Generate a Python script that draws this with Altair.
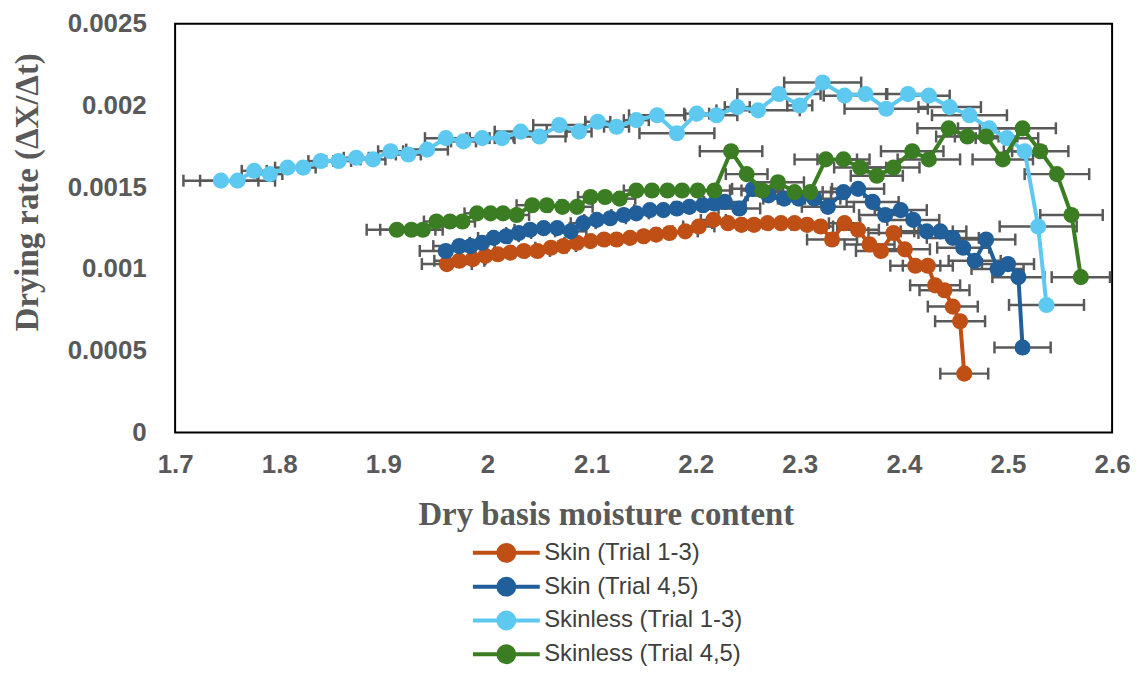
import altair as alt
import pandas as pd

series_names = ["Skin (Trial 1-3)", "Skin (Trial 4,5)", "Skinless (Trial 1-3)", "Skinless (Trial 4,5)"]
series_colors = ["#C04F15", "#215F9A", "#5DC9F1", "#3B7D23"]

x_ticks = [1.7, 1.8, 1.9, 2.0, 2.1, 2.2, 2.3, 2.4, 2.5, 2.6]
y_ticks = [0, 0.0005, 0.001, 0.0015, 0.002, 0.0025]

# Skin (Trial 1-3)
skin13_x = [1.961, 1.973, 1.986, 1.998, 2.010, 2.022, 2.035, 2.048, 2.061, 2.073, 2.086, 2.099,
            2.112, 2.124, 2.137, 2.150, 2.162, 2.175, 2.190, 2.203, 2.217, 2.231, 2.244, 2.256,
            2.269, 2.282, 2.295, 2.307, 2.320, 2.331, 2.343, 2.356, 2.367, 2.378, 2.390, 2.401,
            2.411, 2.423, 2.430, 2.439, 2.447, 2.454, 2.458]
skin13_y = [0.00103, 0.00105, 0.00106, 0.00108, 0.00109, 0.00110, 0.00111, 0.00111, 0.00113, 0.00114,
            0.00116, 0.00117, 0.00118, 0.00118, 0.00119, 0.00120, 0.00121, 0.00122, 0.00123, 0.00126,
            0.00130, 0.00128, 0.00127, 0.00127, 0.00128, 0.00128, 0.00128, 0.00127, 0.00126, 0.00118,
            0.00128, 0.00124, 0.00115, 0.00111, 0.00122, 0.00112, 0.00102, 0.00102, 0.00090, 0.00087,
            0.00077, 0.00068, 0.00036]
skin13_err = [0.024, 0.024, 0.012, 0.012, 0.012, 0.015, 0.012, 0.012, 0.015, 0.012, 0.012, 0.015,
              0.012, 0.012, 0.015, 0.012, 0.012, 0.015, 0.012, 0.015, 0.012, 0.015, 0.012, 0.015,
              0.012, 0.015, 0.012, 0.015, 0.012, 0.024, 0.015, 0.020, 0.024, 0.024, 0.024, 0.024,
              0.024, 0.024, 0.024, 0.024, 0.024, 0.024, 0.023]

# Skin (Trial 4,5)
skin45_x = [1.960, 1.973, 1.984, 1.995, 2.006, 2.018, 2.030, 2.041, 2.054, 2.067, 2.080, 2.092,
            2.105, 2.118, 2.131, 2.143, 2.156, 2.169, 2.182, 2.194, 2.207, 2.218, 2.228, 2.242,
            2.255, 2.270, 2.285, 2.299, 2.314, 2.327, 2.342, 2.356, 2.370, 2.382, 2.397, 2.409,
            2.422, 2.435, 2.447, 2.457, 2.468, 2.479, 2.490, 2.500, 2.510, 2.514]
skin45_y = [0.00111, 0.00114, 0.00114, 0.00116, 0.00119, 0.00120, 0.00122, 0.00124, 0.00125, 0.00125,
            0.00123, 0.00128, 0.00130, 0.00131, 0.00133, 0.00134, 0.00136, 0.00136, 0.00137, 0.00138,
            0.00139, 0.00140, 0.00141, 0.00137, 0.00149, 0.00145, 0.00143, 0.00143, 0.00143, 0.00138,
            0.00147, 0.00149, 0.00141, 0.00133, 0.00136, 0.00130, 0.00123, 0.00123, 0.00119, 0.00113,
            0.00105, 0.00118, 0.00100, 0.00103, 0.00095, 0.00052]
skin45_err = [0.025, 0.025, 0.012, 0.012, 0.015, 0.012, 0.012, 0.015, 0.012, 0.012, 0.015, 0.012,
              0.012, 0.015, 0.012, 0.012, 0.015, 0.012, 0.012, 0.015, 0.012, 0.015, 0.020, 0.020,
              0.020, 0.020, 0.020, 0.020, 0.025, 0.025, 0.020, 0.025, 0.025, 0.025, 0.025, 0.025,
              0.025, 0.025, 0.025, 0.025, 0.025, 0.028, 0.025, 0.025, 0.025, 0.027]

# Skinless (Trial 1-3)
skinless13_x = [1.744, 1.760, 1.776, 1.791, 1.808, 1.823, 1.840, 1.857, 1.874, 1.890, 1.907, 1.924,
                1.942, 1.960, 1.977, 1.995, 2.014, 2.032, 2.050, 2.069, 2.088, 2.106, 2.124, 2.143,
                2.163, 2.182, 2.201, 2.220, 2.240, 2.260, 2.280, 2.300, 2.322, 2.343, 2.363, 2.383,
                2.404, 2.424, 2.444, 2.463, 2.482, 2.499, 2.516, 2.529, 2.537]
skinless13_y = [0.00154, 0.00154, 0.00160, 0.00158, 0.00162, 0.00162, 0.00166, 0.00166, 0.00168, 0.00167,
                0.00172, 0.00170, 0.00173, 0.00180, 0.00178, 0.00180, 0.00180, 0.00184, 0.00181, 0.00188,
                0.00184, 0.00190, 0.00187, 0.00191, 0.00194, 0.00183, 0.00195, 0.00194, 0.00199, 0.00197,
                0.00207, 0.00200, 0.00214, 0.00206, 0.00207, 0.00198, 0.00207, 0.00206, 0.00199, 0.00194,
                0.00186, 0.00180, 0.00172, 0.00126, 0.00078]
skinless13_err = [0.036, 0.036, 0.012, 0.012, 0.012, 0.012, 0.012, 0.012, 0.012, 0.012, 0.012, 0.012,
                  0.020, 0.020, 0.012, 0.012, 0.012, 0.025, 0.025, 0.025, 0.012, 0.012, 0.012, 0.012,
                  0.027, 0.036, 0.012, 0.020, 0.012, 0.040, 0.040, 0.012, 0.037, 0.020, 0.020, 0.040,
                  0.020, 0.020, 0.030, 0.036, 0.030, 0.030, 0.020, 0.037, 0.036]

# Skinless (Trial 4,5)
skinless45_x = [1.913, 1.927, 1.938, 1.951, 1.964, 1.976, 1.990, 2.003, 2.015, 2.028, 2.043, 2.057,
                2.072, 2.086, 2.099, 2.113, 2.127, 2.143, 2.158, 2.173, 2.187, 2.202, 2.218, 2.234,
                2.249, 2.264, 2.279, 2.295, 2.310, 2.325, 2.342, 2.358, 2.374, 2.390, 2.408, 2.424,
                2.443, 2.461, 2.479, 2.495, 2.514, 2.531, 2.547, 2.561, 2.570]
skinless45_y = [0.00124, 0.00124, 0.00124, 0.00129, 0.00129, 0.00129, 0.00134, 0.00134, 0.00134, 0.00133,
                0.00139, 0.00139, 0.00138, 0.00138, 0.00144, 0.00144, 0.00143, 0.00148, 0.00148, 0.00148,
                0.00148, 0.00148, 0.00148, 0.00172, 0.00158, 0.00148, 0.00153, 0.00147, 0.00147, 0.00167,
                0.00167, 0.00162, 0.00157, 0.00162, 0.00172, 0.00167, 0.00186, 0.00181, 0.00181, 0.00167,
                0.00186, 0.00172, 0.00158, 0.00133, 0.00095]
skinless45_err = [0.029, 0.030, 0.012, 0.012, 0.015, 0.012, 0.012, 0.015, 0.012, 0.012, 0.015, 0.012,
                  0.012, 0.015, 0.012, 0.012, 0.015, 0.012, 0.012, 0.015, 0.012, 0.012, 0.015, 0.030,
                  0.020, 0.020, 0.025, 0.020, 0.020, 0.030, 0.025, 0.025, 0.025, 0.025, 0.030, 0.030,
                  0.030, 0.030, 0.030, 0.029, 0.032, 0.027, 0.031, 0.030, 0.028]

series_data = [
    (series_names[0], skin13_x, skin13_y, skin13_err),
    (series_names[1], skin45_x, skin45_y, skin45_err),
    (series_names[2], skinless13_x, skinless13_y, skinless13_err),
    (series_names[3], skinless45_x, skinless45_y, skinless45_err),
]

frames = []
for name, xs, ys, es in series_data:
    f = pd.DataFrame({"x": xs, "y": ys, "err": es})
    f["series"] = name
    f["idx"] = range(len(f))
    frames.append(f)
df = pd.concat(frames, ignore_index=True)
df["lo"] = df["x"] - df["err"]
df["hi"] = df["x"] + df["err"]

GRAY = "#595959"
x_scale = alt.Scale(domain=[1.7, 2.6], nice=False, zero=False)
y_scale = alt.Scale(domain=[0, 0.0025], nice=False, zero=True)

x_axis = alt.Axis(values=x_ticks, format=".1~f", title="Dry basis moisture content",
                  grid=False, ticks=False, domain=False, labelFlush=False,
                  labelFont="Liberation Sans", labelFontWeight="bold", labelFontSize=26,
                  labelColor=GRAY, labelPadding=19,
                  titleFont="Liberation Serif", titleFontWeight="bold", titleFontSize=33,
                  titleColor=GRAY, titleX=433, titleY=82, titleAlign="center",
                  titleBaseline="middle", titleAngle=0)
y_axis = alt.Axis(values=y_ticks, format="~g", title="Drying rate (ΔX/Δt)",
                  grid=False, ticks=False, domain=False, labelFlush=False,
                  labelFont="Liberation Sans", labelFontWeight="bold", labelFontSize=26,
                  labelColor=GRAY, labelPadding=29,
                  titleFont="Liberation Serif", titleFontWeight="bold", titleFontSize=33,
                  titleColor=GRAY, titleX=-148, titleY=169, titleAlign="center",
                  titleBaseline="middle", titleAngle=270)

legend_symbol = ("M-2.8,0L2.8,0 "
                 "M0.667,0A0.667,0.667,0,1,1,-0.667,0A0.667,0.667,0,1,1,0.667,0 "
                 "M0.417,0A0.417,0.417,0,1,1,-0.417,0A0.417,0.417,0,1,1,0.417,0 "
                 "M0.167,0A0.167,0.167,0,1,1,-0.167,0A0.167,0.167,0,1,1,0.167,0")
legend = alt.Legend(title=None, orient="none", legendX=319, legendY=518, direction="vertical",
                    symbolType=legend_symbol, symbolSize=576, symbolStrokeWidth=4,
                    labelFont="Liberation Sans", labelFontSize=24, labelColor="#404040",
                    labelOffset=24, labelLimit=400, rowPadding=0, padding=0)

color_enc = alt.Color("series:N", scale=alt.Scale(domain=series_names, range=series_colors), legend=legend)

base = alt.Chart(df)
X = alt.X("x:Q", scale=x_scale, axis=x_axis)
Y = alt.Y("y:Q", scale=y_scale, axis=y_axis)

err_line = base.mark_rule(color=GRAY, strokeWidth=2.5).encode(
    x=alt.X("lo:Q", scale=x_scale, axis=x_axis), x2="hi:Q", y=Y)
err_cap_lo = base.mark_tick(orient="vertical", color=GRAY, size=12, thickness=2.5, opacity=1).encode(
    x=alt.X("lo:Q", scale=x_scale, axis=x_axis), y=Y)
err_cap_hi = base.mark_tick(orient="vertical", color=GRAY, size=12, thickness=2.5, opacity=1).encode(
    x=alt.X("hi:Q", scale=x_scale, axis=x_axis), y=Y)

layers = [err_line, err_cap_lo, err_cap_hi]
for name, col in zip(series_names, series_colors):
    sub = base.transform_filter(alt.datum.series == name)
    layers.append(sub.mark_line(strokeWidth=4).encode(x=X, y=Y, color=color_enc, order="idx:Q"))
    layers.append(sub.mark_circle(size=263, opacity=1, color=col).encode(x=X, y=Y))

chart = alt.layer(*layers).properties(
    width=942, height=411,
    padding={"left": 168, "top": 14, "right": 18, "bottom": 235},
    autosize=alt.AutoSizeParams(type="none"),
    background="white",
).configure_view(stroke="black", strokeWidth=2)

chart.save("out.html", embed_options={"renderer": "svg", "actions": False})
